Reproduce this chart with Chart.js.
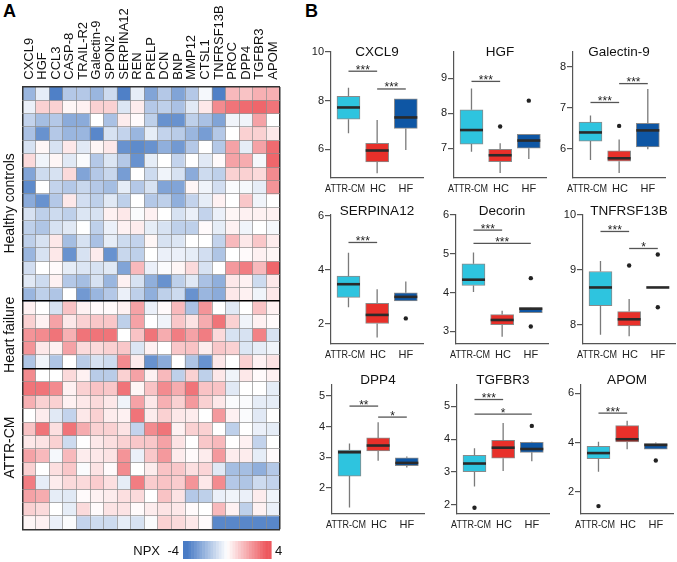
<!DOCTYPE html>
<html>
<head>
<meta charset="utf-8">
<script src="https://cdn.jsdelivr.net/npm/chart.js@4.4.1/dist/chart.umd.min.js"></script>
<style>
body{margin:0;background:#fff}
#wrap{position:relative;width:677px;height:562px;overflow:hidden;background:#fff;font-family:'Liberation Sans',Arial,sans-serif}
canvas{position:absolute}
.lbl{position:absolute;font-weight:bold;font-size:18px;color:#000}
</style>
</head>
<body>
<div id="wrap">
  <div class="lbl" style="left:3px;top:1px">A</div>
  <div class="lbl" style="left:305px;top:1px">B</div>
  <canvas id="heat" width="300" height="562" style="left:0;top:0"></canvas>
</div>
<script>
Chart.defaults.font.family = "'Liberation Sans', Arial, sans-serif";
Chart.defaults.color = '#222';

// ---- panel A : heatmap ----
const genes = ['CXCL9','HGF','CCL3','CASP-8','TRAIL-R2','Galectin-9','SPON2','SERPINA12','REN','PRELP','DCN','BNP','MMP12','CTSL1','TNFRSF13B','PROC','DPP4','TGFBR3','APOM'];
const groupNames = ['Healthy controls','Heart failure','ATTR-CM'];
const groupSizes = [16, 5, 12];
const groupLabelRow = [8.7, 18.5, 26.9];
const npxMin = -4, npxMax = 4;

const hcRows = [
  [-2,-0.5,-3.5,-1.5,-1.5,-2,-1,-3.5,-0.5,-2.5,-1.5,-2.5,-1.5,-0.2,-3.5,1.5,1.3,1.7,1.7],
  [-0.4,1,1,0.2,0.3,1,1,-0.7,0.4,-1.5,-1.3,-1.7,-0.6,0.5,2.5,3,3.2,3.3,3],
  [-1.2,-1.8,-1.5,-2.3,-2.3,0,-1.7,0.4,0.1,-1.3,-3,-3,-1.3,-1.7,-2.5,-0.3,-0.3,2,0],
  [-1.7,-3,-1.5,-2,-2,-3.3,-0.8,-1.2,-2,-0.5,-1.2,-1.4,-2,-2.7,-1.5,0,1,1,0.5],
  [-0.8,0.2,-0.8,0.5,-0.6,0.2,0.5,-3,-3.2,-3,-2.2,-2.8,-1.5,0,-1.5,2,-0.5,2,3.2],
  [0.8,-0.3,0.2,-0.6,-0.1,-1.5,-0.7,-1.5,-3,-0.5,0,-1.2,0,-0.6,0.1,2,1.8,-0.2,3.3],
  [-2.5,-1,-0.8,0.8,-2.5,-1.5,-1.1,-2.7,0,-1,-0.3,-0.8,-2.3,-1,-1.3,1,1,0.8,2.5],
  [-3.2,0,-1.2,-1.5,-1.1,-1.5,-1.8,-0.5,-1.5,-0.8,-2.5,-2.5,0.2,-0.3,-0.9,-0.1,-0.2,-0.5,2.3],
  [-2.3,-3,-1.5,0.5,-0.9,-1.3,-0.6,-1.3,0,-1.5,-1.3,-2.2,-1.2,-0.5,0.3,0,1.2,-0.3,0],
  [-0.8,-1.3,-1,-1.3,-0.7,-0.8,0.3,0.5,-0.1,0.3,0,-0.8,-0.4,-1.2,-0.4,0.2,0.3,0.3,0.3],
  [-1.3,-1.6,-0.8,-0.6,0,-1.3,-0.4,0.3,0.4,-0.5,-0.8,-1.3,-1.3,0.1,-0.5,0.3,-0.3,0,-0.2],
  [-1.3,-0.8,0.5,-1.8,-0.8,-1.7,-0.5,-1,-1.2,0.2,-0.8,-0.7,0,0,-1.2,1.5,0.5,1.2,0.4],
  [-2,-0.8,0.5,-3,-0.8,0.4,-3,-1.1,-1.3,0,-0.4,-0.4,-0.5,-0.9,-1.6,0,0.1,0.3,0.2],
  [-0.9,0,0.1,-0.5,-0.7,-0.8,-0.6,-2.5,1.5,-0.4,-0.1,0.2,0.8,-0.8,0,2.2,2.8,1.5,3.3],
  [-0.6,-1,0.3,-1.5,-1.8,-0.8,-2,0.3,-0.8,-2.2,-3,-1.3,-0.6,-1.7,-2.2,0.5,0.3,-1,0.5],
  [-2,-1.3,-1.6,0,-2.8,-2,-1.5,-0.4,-1.3,-2.2,-1.3,-1,-3,-2,-2.3,0.5,0.3,-0.3,0.5]
];
const hfRows = [
  [0.3,0,-0.8,1.3,0.3,0.1,0.1,0.3,2,-0.4,0.1,1.5,-1.7,2.3,0,-0.6,0,1.3,0.3],
  [1,0.3,2,0.5,1,1.2,1.2,-1.3,2,0,-0.3,1.2,0.6,1.8,3,1,-0.3,0.3,0.1],
  [2.3,2.5,3,1.7,3,3,3,0,1.3,3,1.8,2.8,2,2.8,0.8,-0.8,-0.8,2.7,-0.8],
  [2.3,0.5,0.3,2,0.8,0.8,1,1.2,-0.7,0.3,0,1.2,1.3,0.4,1.2,1,-0.7,-0.5,-0.3],
  [-1.6,-0.3,-1.6,0,-1.4,-0.8,-1,2.5,0.4,-3,-2.3,0,-1.6,-3,0.5,0,1,0.3,0.6]
];
const attrRows = [
  [2.5,0,0,0.8,0.3,-1.4,-1.4,1,2,0.3,1.5,-1.3,1,-1.3,0.5,-0.3,0.5,0.1,0.3],
  [3,3,2.5,0.3,1,1.3,1.2,3,0.2,1.3,2.5,1.8,3,1.3,1.3,-0.6,0,0,-0.5],
  [1.7,1,1,0.3,0.5,0.8,0.5,-0.3,2,0.5,1.7,1,2.2,1,0.5,-0.1,-0.1,-0.5,-0.5],
  [0,0.4,-0.6,-1.2,0.5,1,0.4,0.3,3,0.4,1,0.5,0.4,0,2.2,0.3,-0.1,-0.6,0],
  [1.3,3,0.7,3,1.8,1,1,0.6,-1.2,2.5,3,0.3,1,1,0,-1.3,0,-0.4,-0.5],
  [0.5,0.6,1,-1,0,0.5,0.7,1,1.2,1.2,2,0.6,0,1.2,1.5,0,0.3,-1.2,0],
  [2,1.5,-0.2,1.5,0.4,0.5,0.6,2.3,-0.4,1.2,2.2,0.4,0.1,0.4,2.2,0.4,0.4,-0.5,0.1],
  [1,0,0.7,1.2,-0.1,0.6,0.1,2.5,0,0.4,1.3,1.2,0.7,0.9,-0.6,-1.8,-1.8,-2.2,-1.5],
  [2.8,-0.5,0.4,0.8,0.8,1.1,0.7,-0.5,2.8,1.1,1.3,1.1,2.3,0.5,2.5,-1.5,-1.6,-1,-1.2],
  [2,1.8,-0.5,-0.6,0.1,0.3,0.4,0.7,0.8,0,1.3,0.6,-1.5,-1.3,-0.4,-0.3,-0.4,0.4,-0.3],
  [1,0.8,0,-0.5,0.8,0.1,0.6,0.6,0.1,0.4,0.6,0.5,0.1,0,1.5,0.3,-1.3,0.3,-0.4],
  [0.2,0.3,-0.4,-0.1,-1.2,-1,-1,-0.5,-0.8,-0.1,1,0.8,0.5,0.1,-3.3,-3.3,-3.3,-3.3,-3.3]
];

// ---- panel B : box plots (min, q1, median, q3, max) ----
const groups = ['ATTR-CM','HC','HF'];
const groupColors = ['#2ec4df','#e8302a','#0e56a4'];

const CXCL9 = [[6.66,7.24,7.72,8.18,8.53],[5.02,5.48,5.95,6.25,7.20],[5.97,6.86,7.31,8.07,8.07]];
const CXCL9_out = [];
const CXCL9_sig = [[0,1,9.21,'***'],[1,2,8.48,'***']];
const CXCL9_ticks = [6,8,10];

const HGF = [[6.90,7.12,7.52,8.10,8.71],[6.29,6.62,6.80,6.97,7.14],[6.69,7.00,7.22,7.40,7.40]];
const HGF_out = [[1,7.62],[2,8.36]];
const HGF_sig = [[0,1,8.91,'***']];
const HGF_ticks = [7,8,9];

const GAL9 = [[5.73,6.19,6.40,6.65,6.81],[5.41,5.70,5.77,5.95,6.23],[5.99,6.05,6.45,6.62,7.46]];
const GAL9_out = [[1,6.56]];
const GAL9_sig = [[0,1,7.13,'***'],[1,2,7.59,'***']];
const GAL9_ticks = [6,7,8];

const SERPINA12 = [[2.61,2.98,3.47,3.77,4.64],[1.49,2.01,2.33,2.76,3.28],[2.85,2.85,3.00,3.15,3.57]];
const SERPINA12_out = [[2,2.20]];
const SERPINA12_sig = [[0,1,5.02,'***']];
const SERPINA12_ticks = [2,4,6];

const DCN = [[4.01,4.18,4.33,4.74,5.03],[2.86,3.17,3.29,3.43,3.53],[3.48,3.48,3.58,3.61,3.62]];
const DCN_out = [[2,4.37],[2,3.12]];
const DCN_sig = [[0,1,5.61,'***'],[0,2,5.27,'***']];
const DCN_ticks = [3,4,5,6];

const TNF = [[7.82,8.35,8.68,8.97,9.16],[7.79,7.98,8.10,8.24,8.47],[8.68,8.68,8.68,8.68,8.68]];
const TNF_out = [[1,9.08],[2,9.28],[2,8.32]];
const TNF_sig = [[0,1,9.70,'***'],[1,2,9.39,'*']];
const TNF_ticks = [8,9,10];

const DPP4 = [[1.35,2.38,3.16,3.23,3.45],[2.88,3.20,3.38,3.63,4.14],[2.66,2.72,2.81,2.98,3.02]];
const DPP4_out = [];
const DPP4_sig = [[0,1,4.67,'**'],[1,2,4.31,'*']];
const DPP4_ticks = [2,3,4,5];

const TGFBR3 = [[2.56,3.01,3.26,3.51,3.72],[3.03,3.42,3.74,3.96,4.49],[3.33,3.60,3.70,3.90,3.92]];
const TGFBR3_out = [[0,1.92],[2,4.40]];
const TGFBR3_sig = [[0,1,5.20,'***'],[0,2,4.76,'*']];
const TGFBR3_ticks = [2,3,4,5];

const APOM = [[2.82,3.35,3.58,3.85,4.04],[3.74,4.03,4.14,4.69,4.89],[3.74,3.74,3.91,3.97,4.01]];
const APOM_out = [[0,1.43],[2,3.28]];
const APOM_sig = [[0,1,5.20,'***']];
const APOM_ticks = [2,4,6];

// colour scale for NPX
function npxColor(v) {
  const t = Math.min(1, Math.abs(v) / 3.6);
  const end = v < 0 ? [74,124,197] : [237,88,94];
  const c = end.map(e => Math.round(255 + (e - 255) * t));
  return 'rgb(' + c.join(',') + ')';
}

const rows = hcRows.concat(hfRows, attrRows);
const nRows = rows.length;
const groupBounds = [];
groupSizes.reduce((a, s) => { groupBounds.push(a + s); return a + s; }, 0);

const heatExtras = {
  id: 'heatExtras',
  afterDraw(chart) {
    const ctx = chart.ctx, x = chart.scales.x, y = chart.scales.y, area = chart.chartArea;
    ctx.save();
    ctx.fillStyle = '#111';
    // column labels
    ctx.font = "13px 'Liberation Sans', Arial, sans-serif";
    ctx.textAlign = 'left';
    ctx.textBaseline = 'middle';
    genes.forEach((g, i) => {
      ctx.save();
      ctx.translate(x.getPixelForValue(i), area.top - 7);
      ctx.rotate(-Math.PI / 2);
      ctx.fillText(g, 0, 0);
      ctx.restore();
    });
    // group labels
    ctx.font = "14px 'Liberation Sans', Arial, sans-serif";
    ctx.textAlign = 'center';
    groupNames.forEach((g, i) => {
      ctx.save();
      ctx.translate(10, y.getPixelForValue(groupLabelRow[i]));
      ctx.rotate(-Math.PI / 2);
      ctx.fillText(g, 0, 0);
      ctx.restore();
    });
    // colour key
    const bx = 183, bw = 88, by = 541, bh = 18, n = 32;
    for (let k = 0; k < n; k++) {
      const v = npxMin + (npxMax - npxMin) * (k + 0.5) / n;
      ctx.fillStyle = npxColor(v);
      ctx.fillRect(bx + bw * k / n, by, bw / n + 0.6, bh);
    }
    ctx.fillStyle = '#111';
    ctx.font = "13px 'Liberation Sans', Arial, sans-serif";
    ctx.textAlign = 'right';
    ctx.fillText('NPX', 160, 551);
    ctx.fillText(String(npxMin), 179, 551);
    ctx.textAlign = 'left';
    ctx.fillText(String(npxMax), 275, 551);
    ctx.restore();
  }
};

function yGridColor(c) {
  const v = c.tick ? c.tick.value : -1;
  if (v === 0 || v === nRows) return '#333';
  if (groupBounds.includes(v)) return '#000';
  return '#8c8c8c';
}
function yGridWidth(c) {
  const v = c.tick ? c.tick.value : -1;
  if (v === 0 || v === nRows) return 1.5;
  if (groupBounds.includes(v)) return 1.6;
  return 0.7;
}

new Chart(document.getElementById('heat'), {
  type: 'bar',
  data: {
    labels: genes,
    datasets: rows.map(r => ({
      data: r.map(() => 1),
      backgroundColor: r.map(npxColor),
      borderWidth: 0,
      barPercentage: 1,
      categoryPercentage: 1
    }))
  },
  options: {
    responsive: false,
    animation: false,
    layout: { padding: { left: 22.3, right: 20, top: 0, bottom: 32.7 } },
    plugins: { legend: { display: false }, tooltip: { enabled: false } },
    scales: {
      x: {
        position: 'top',
        stacked: true,
        grid: {
          offset: true, z: 1, drawTicks: false,
          color: c => (c.index === 0 || c.index === undefined) ? '#333' : '#8c8c8c',
          lineWidth: c => (c.index === 0 || c.index === undefined) ? 1.5 : 0.7
        },
        border: { display: false },
        ticks: { display: false },
        afterFit: s => { s.height = 86.7; }
      },
      y: {
        stacked: true,
        reverse: true,
        min: 0,
        max: nRows,
        grid: { z: 1, drawTicks: false, color: yGridColor, lineWidth: yGridWidth },
        border: { display: false },
        ticks: { display: false },
        afterBuildTicks: s => { s.ticks = rows.map((r, i) => ({ value: i })).concat([{ value: nRows }]); },
        afterFit: s => { s.width = 0; }
      }
    }
  },
  plugins: [heatExtras]
});

// ---- box plot panels ----
const panels = [
  { title: 'CXCL9', stats: CXCL9, out: CXCL9_out, sig: CXCL9_sig, ticks: CXCL9_ticks, min: 4.82, max: 10, left: 331, top: 52, bottom: 178, titleDy: 0 },
  { title: 'HGF', stats: HGF, out: HGF_out, sig: HGF_sig, ticks: HGF_ticks, min: 6.15, max: 9.75, left: 454, top: 52, bottom: 178, titleDy: 0 },
  { title: 'Galectin-9', stats: GAL9, out: GAL9_out, sig: GAL9_sig, ticks: GAL9_ticks, min: 5.29, max: 8.36, left: 573, top: 52, bottom: 178, titleDy: 0 },
  { title: 'SERPINA12', stats: SERPINA12, out: SERPINA12_out, sig: SERPINA12_sig, ticks: SERPINA12_ticks, min: 1.25, max: 6.04, left: 331, top: 215, bottom: 344, titleDy: -3.5 },
  { title: 'Decorin', stats: DCN, out: DCN_out, sig: DCN_sig, ticks: DCN_ticks, min: 2.67, max: 6.0, left: 456, top: 215, bottom: 344, titleDy: -3.5 },
  { title: 'TNFRSF13B', stats: TNF, out: TNF_out, sig: TNF_sig, ticks: TNF_ticks, min: 7.65, max: 10.0, left: 583, top: 215, bottom: 344, titleDy: -3.5 },
  { title: 'DPP4', stats: DPP4, out: DPP4_out, sig: DPP4_sig, ticks: DPP4_ticks, min: 1.14, max: 5.36, left: 332, top: 385, bottom: 514, titleDy: -5 },
  { title: 'TGFBR3', stats: TGFBR3, out: TGFBR3_out, sig: TGFBR3_sig, ticks: TGFBR3_ticks, min: 1.73, max: 5.64, left: 457, top: 385, bottom: 514, titleDy: -5 },
  { title: 'APOM', stats: APOM, out: APOM_out, sig: APOM_sig, ticks: APOM_ticks, min: 1.11, max: 6.34, left: 581, top: 385, bottom: 514, titleDy: -5 }
];
const groupLabelPos = [-0.12, 1.03, 2.0];
const groupLabelSqueeze = [0.82, 1, 1];

function boxPlugin(p) {
  return {
    id: 'boxExtras',
    afterDatasetsDraw(chart) {
      const ctx = chart.ctx, x = chart.scales.x, y = chart.scales.y;
      ctx.save();
      p.stats.forEach((s, i) => {
        const px = x.getPixelForValue(i);
        ctx.strokeStyle = '#7a7a7a';
        ctx.lineWidth = 1.3;
        ctx.beginPath();
        ctx.moveTo(px, y.getPixelForValue(s[3]));
        ctx.lineTo(px, y.getPixelForValue(s[4]));
        ctx.moveTo(px, y.getPixelForValue(s[1]));
        ctx.lineTo(px, y.getPixelForValue(s[0]));
        ctx.stroke();
        const my = y.getPixelForValue(s[2]);
        ctx.strokeStyle = '#2a2a2a';
        ctx.lineWidth = 2.6;
        ctx.beginPath();
        ctx.moveTo(px - 11.5, my);
        ctx.lineTo(px + 11.5, my);
        ctx.stroke();
      });
      p.sig.forEach(sg => {
        const xa = x.getPixelForValue(sg[0]), xb = x.getPixelForValue(sg[1]);
        const sy = y.getPixelForValue(sg[2]);
        ctx.strokeStyle = '#555';
        ctx.lineWidth = 1.3;
        ctx.beginPath();
        ctx.moveTo(xa, sy);
        ctx.lineTo(xb, sy);
        ctx.stroke();
        ctx.fillStyle = '#222';
        ctx.font = "12px 'Liberation Sans', Arial, sans-serif";
        ctx.textAlign = 'center';
        ctx.textBaseline = 'alphabetic';
        ctx.fillText(sg[3], (xa + xb) / 2, sy + 2.5);
      });
      ctx.restore();
    },
    afterDraw(chart) {
      const ctx = chart.ctx, a = chart.chartArea, x = chart.scales.x;
      ctx.save();
      ctx.fillStyle = '#111';
      ctx.font = "13.5px 'Liberation Sans', Arial, sans-serif";
      ctx.textAlign = 'center';
      ctx.textBaseline = 'middle';
      ctx.fillText(p.title, (a.left + a.right) / 2, a.top + p.titleDy);
      // group labels under the x axis
      ctx.fillStyle = '#222';
      ctx.font = "11px 'Liberation Sans', Arial, sans-serif";
      groups.forEach((g, i) => {
        ctx.save();
        ctx.translate(x.getPixelForValue(groupLabelPos[i]), a.bottom + 11);
        ctx.scale(groupLabelSqueeze[i], 1);
        ctx.fillText(g, 0, 0);
        ctx.restore();
      });
      ctx.restore();
    }
  };
}

const wrap = document.getElementById('wrap');
const padTop = 18, yW = 32, xH = 22, plotW = 92, padR = 8;
panels.forEach(p => {
  const cv = document.createElement('canvas');
  cv.width = yW + plotW + padR;
  cv.height = padTop + (p.bottom - p.top) + xH;
  cv.style.left = (p.left - yW) + 'px';
  cv.style.top = (p.top - padTop) + 'px';
  wrap.appendChild(cv);
  new Chart(cv, {
    type: 'bar',
    data: {
      datasets: [
        {
          type: 'bar',
          data: p.stats.map((s, i) => ({ x: i, y: [s[1], s[3]] })),
          backgroundColor: groupColors,
          borderColor: '#8a8a8a',
          borderWidth: 1,
          borderSkipped: false,
          barThickness: 23,
          order: 2
        },
        {
          type: 'scatter',
          data: p.out.map(o => ({ x: o[0], y: o[1] })),
          pointRadius: 2.2,
          pointBackgroundColor: '#222',
          pointBorderWidth: 0,
          order: 1
        }
      ]
    },
    options: {
      responsive: false,
      animation: false,
      layout: { padding: { left: 0, top: padTop, right: padR, bottom: 0 } },
      plugins: { legend: { display: false }, tooltip: { enabled: false } },
      scales: {
        x: {
          type: 'linear',
          offset: false,
          min: -0.61,
          max: 2.6,
          grid: { display: false, drawTicks: false },
          border: { color: '#555', width: 1.2 },
          ticks: { display: false },
          afterFit: s => { s.height = xH; }
        },
        y: {
          min: p.min,
          max: p.max,
          grid: { drawOnChartArea: false, tickLength: 6, color: '#555', lineWidth: 1.2 },
          border: { color: '#555', width: 1.2 },
          afterBuildTicks: s => { s.ticks = p.ticks.map(v => ({ value: v })); },
          ticks: { padding: 1, color: '#222', font: { size: 11 } },
          afterFit: s => { s.width = yW; }
        }
      }
    },
    plugins: [boxPlugin(p)]
  });
});
</script>
</body>
</html>
